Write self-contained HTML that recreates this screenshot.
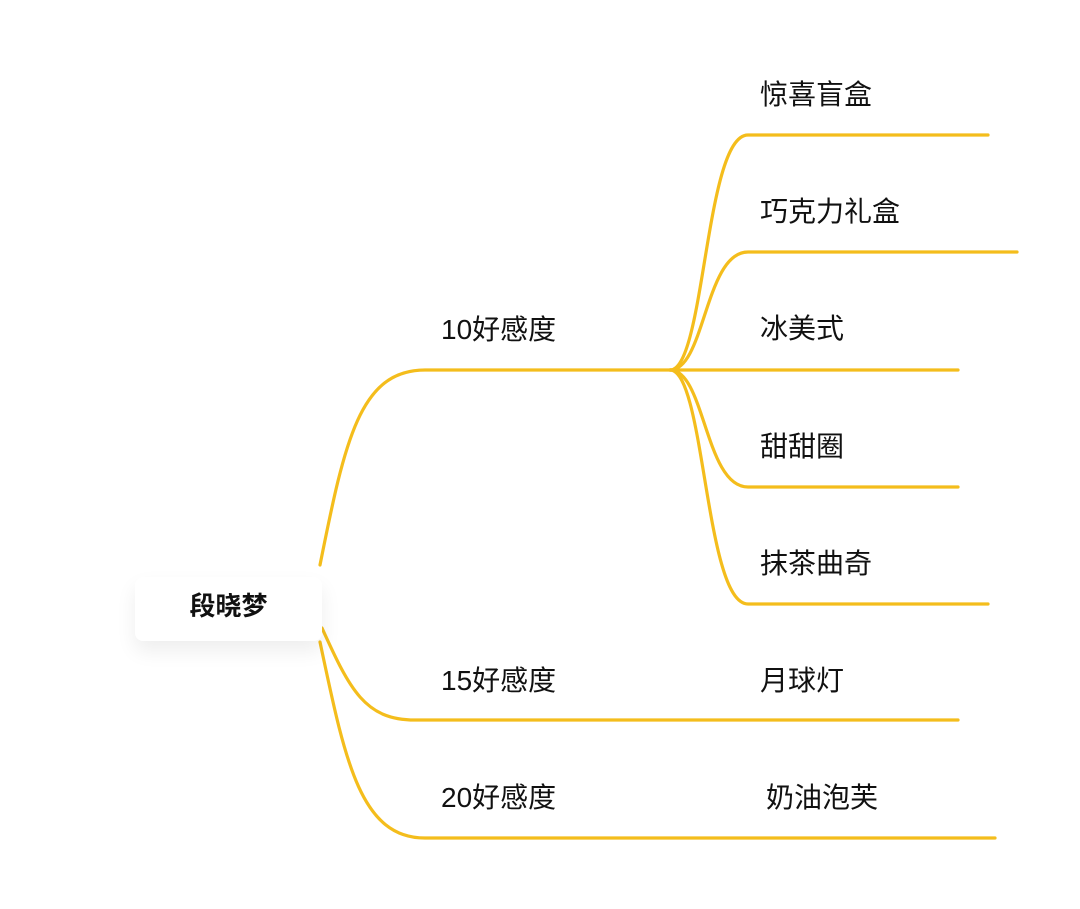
<!DOCTYPE html>
<html><head><meta charset="utf-8"><style>
body{margin:0;width:1080px;height:909px;background:#fff;position:relative;overflow:hidden;font-family:"Liberation Sans","Noto Sans CJK SC",sans-serif;color:#111}
.t{position:absolute;font-size:28px;line-height:30px;white-space:nowrap}
.root{position:absolute;left:135px;top:577px;width:187px;height:64px;background:#fff;border-radius:8px;box-shadow:0 10px 20px rgba(0,0,0,0.07);text-align:center;line-height:58px;font-size:26px;font-weight:bold}
svg{position:absolute;left:0;top:0}
</style></head><body>
<svg width="1080" height="909"><g fill="none" stroke="#F4BD1C" stroke-width="3.2" stroke-linecap="round">
<path d="M320 565 C345 440 360 370 425 370 L670 370"/>
<path d="M322 628 C350 690 365 720 415 720 L958 720"/>
<path d="M320 642 C345 760 360 838 425 838 L995 838"/>
<path d="M670 370 C705 370 705 135 748 135 L988 135"/>
<path d="M670 370 C705 370 705 252 748 252 L1017 252"/>
<path d="M670 370 L958 370"/>
<path d="M670 370 C705 370 705 487 748 487 L958 487"/>
<path d="M670 370 C705 370 705 604 748 604 L988 604"/>
</g></svg>
<div class="root">段晓梦</div>
<div class="t" style="left:441px;top:315px">10好感度</div>
<div class="t" style="left:441px;top:666px">15好感度</div>
<div class="t" style="left:441px;top:783px">20好感度</div>
<div class="t" style="left:760px;top:80px">惊喜盲盒</div>
<div class="t" style="left:760px;top:197px">巧克力礼盒</div>
<div class="t" style="left:760px;top:314px">冰美式</div>
<div class="t" style="left:760px;top:432px">甜甜圈</div>
<div class="t" style="left:760px;top:549px">抹茶曲奇</div>
<div class="t" style="left:760px;top:666px">月球灯</div>
<div class="t" style="left:766px;top:783px">奶油泡芙</div>
</body></html>
